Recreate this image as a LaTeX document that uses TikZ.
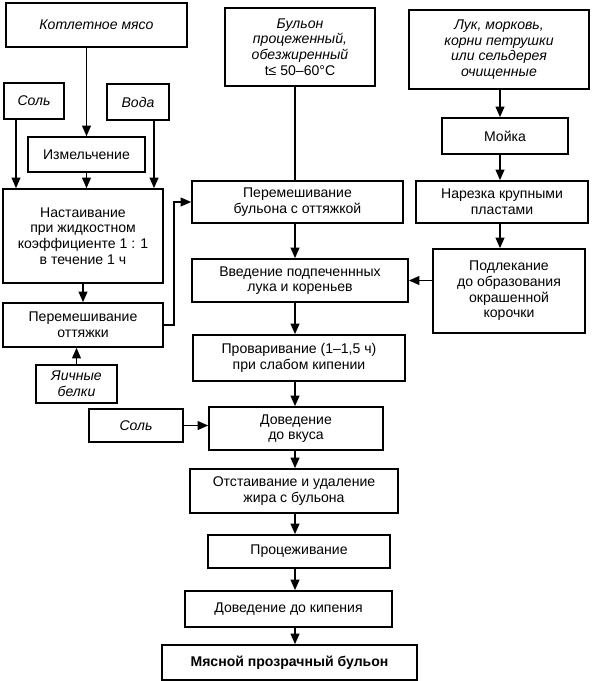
\documentclass[tikz,border=0pt]{standalone}
\usepackage{fontspec}
\setmainfont{Liberation Sans}
\usetikzlibrary{arrows.meta,calc}

\begin{document}
\begin{tikzpicture}[x=0.3mm, y=-0.3mm, font=\fontsize{12}{13.4}\selectfont,
  box/.style={draw, line width=1.4pt, align=center, inner sep=2pt},
  ibox/.style={box, font=\fontsize{12}{13.4}\selectfont\itshape},
  sz/.style 2 args={minimum width=#1*0.3mm, minimum height=#2*0.3mm},
  arr/.style={line width=1.4pt, -{Triangle[length=9pt,width=7.5pt]}},
  ln/.style={line width=1.4pt}]
  \useasboundingbox (0,0) rectangle (594,681);
  % left column: clarifying mixture
  \node[ibox, sz={181}{44}] (meat) at (96.5,25) {Котлетное мясо};
  \node[ibox, sz={60}{36}] (salt) at (34,101) {Соль};
  \node[ibox, sz={62}{36}] (water) at (138,102) {Вода};
  \node[box, sz={117}{35}] (grind) at (86.5,154.5) {Измельчение};
  \node[box, sz={160}{94}] (infuse) at (83,236)
    {Настаивание\\при жидкостном\\коэффициенте 1 : 1\\в течение 1 ч};
  \node[box, sz={160}{44}] (mixclar) at (83,325) {Перемешивание\\оттяжки};
  \node[ibox, sz={81}{38}] (whites) at (76.5,384) {Яичные\\белки};
  \node[ibox, sz={94}{33}] (salttwo) at (136,425.5) {Соль};
  % middle column: broth
  \node[ibox, sz={150}{78}] (broth) at (300,47)
    {Бульон\\процеженный,\\обезжиренный\\\upshape t≤ 50–60°C};
  \node[box, sz={211}{42}] (mixbroth) at (297.5,202) {Перемешивание\\бульона с оттяжкой};
  \node[box, sz={216}{43}] (add) at (300,280.5) {Введение подпеченнных\\лука и кореньев};
  \node[box, sz={212}{46}] (boil) at (299,358) {Проваривание (1–1,5 ч)\\при слабом кипении};
  \node[box, sz={174}{43}] (taste) at (296,428.5) {Доведение\\до вкуса};
  \node[box, sz={208}{44}] (settle) at (294,491) {Отстаивание и удаление\\жира с бульона};
  \node[box, sz={182}{33}] (strain) at (299,551.5) {Процеживание};
  \node[box, sz={207}{36}] (reboil) at (288.5,609) {Доведение до кипения};
  \node[box, sz={255}{35}] (final) at (289.5,662.5) {\bfseries Мясной прозрачный бульон};
  % right column: vegetables
  \node[ibox, sz={180}{79}] (veg) at (499,49.5)
    {Лук, морковь,\\корни петрушки\\или сельдерея\\очищенные};
  \node[box, sz={126}{36}] (wash) at (505,136) {Мойка};
  \node[box, sz={172}{42}] (cut) at (502,202) {Нарезка крупными\\пластами};
  \node[box, sz={152}{84}] (saute) at (509,291)
    {Подлекание\\до образования\\окрашенной\\корочки};

  \coordinate (saltdrop) at (16,0);
  \coordinate (waterdrop) at (154,0);
  \coordinate (axis) at (295,0);
  \coordinate (vegaxis) at (500,0);

  \draw[arr] (meat.south -| grind.north) -- (grind.north);
  \draw[arr] (salt.south -| saltdrop) -- (infuse.north -| saltdrop);
  \draw[arr] (water.south -| waterdrop) -- (infuse.north -| waterdrop);
  \draw[arr] (grind.south) -- (grind.south |- infuse.north);
  \draw[arr] (infuse.south) -- (mixclar.north);
  \draw[arr] (whites.north) -- (whites.north |- mixclar.south);
  \draw[arr] (mixclar.east) -- ++(10,0) |- (mixbroth.west);
  \draw[ln] (broth.south -| axis) -- (mixbroth.north -| axis);
  \foreach \a/\b in {mixbroth/add, add/boil, boil/taste, taste/settle,
                     settle/strain, strain/reboil, reboil/final}
    \draw[arr] (\a.south -| axis) -- (\b.north -| axis);
  \foreach \a/\b in {veg/wash, wash/cut, cut/saute}
    \draw[arr] (\a.south -| vegaxis) -- (\b.north -| vegaxis);
  \draw[arr] (saute.west |- add.east) -- (add.east);
  \draw[arr] (salttwo.east) -- (salttwo.east -| taste.west);
\end{tikzpicture}
\end{document}
